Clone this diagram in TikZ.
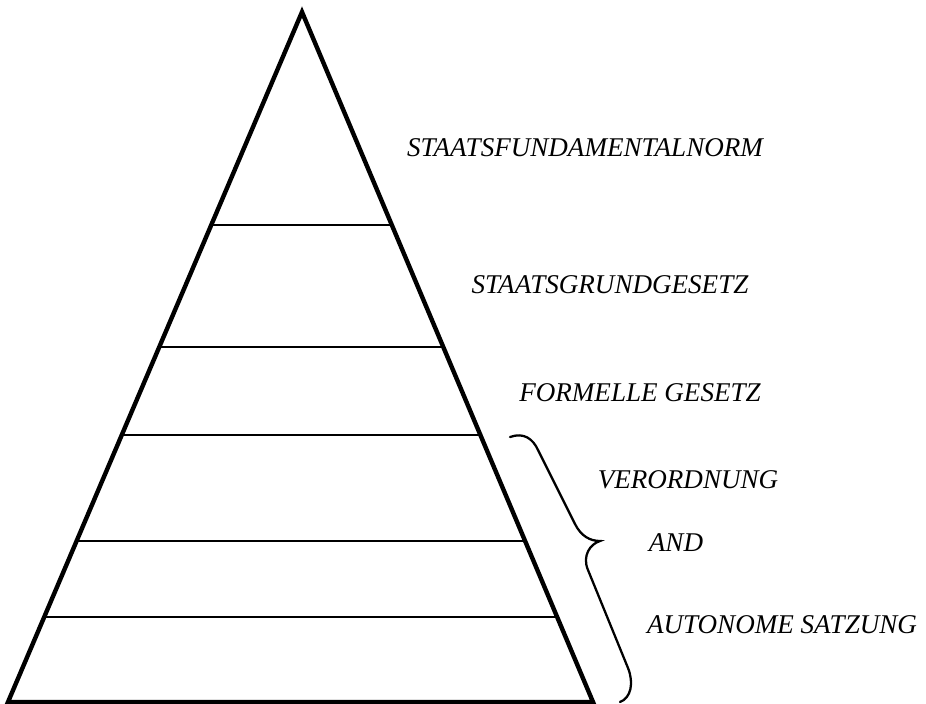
\documentclass[tikz,border=0pt]{standalone}
\usepackage{fontspec}
\setmainfont{Liberation Serif}
\usetikzlibrary{calc}
\begin{document}
\begin{tikzpicture}[x=0.75pt, y=-0.75pt,
    level/.style={font=\fontsize{20.3}{24}\selectfont\itshape, inner sep=0pt}]
  \useasboundingbox (0, 0) rectangle (926, 704);
  % pyramid
  \coordinate (top) at (302, 12);
  \coordinate (bl) at (8, 702);
  \coordinate (br) at (593, 702);
  \draw[line width=3.3pt, line join=miter] (bl) -- (top) -- (br) -- cycle;
  % layers
  \foreach \y in {225, 347, 435, 541, 617} {
    \pgfmathsetmacro{\f}{(\y - 12) / 690}
    \draw[line width=1.1pt] ($(top)!\f!(bl)$) -- ($(top)!\f!(br)$);
  }
  % brace
  \draw[line width=1.7pt, line cap=round] (510, 437)
    .. controls (524, 432) and (533, 439) .. (538, 450) -- (575, 524)
    .. controls (581, 536) and (590, 541) .. (600, 541)
    .. controls (590, 544) and (582, 556) .. (588, 570) -- (628, 668)
    .. controls (634, 683) and (631, 698) .. (620, 702);
  \node[level] (norm) at (585, 148) {STAATSFUNDAMENTALNORM};
  \node[level] (grund) at (610, 285) {STAATSGRUNDGESETZ};
  \node[level] (formell) at (640, 393) {FORMELLE GESETZ};
  \node[level] (verord) at (688, 480) {VERORDNUNG};
  \node[level] (and) at (676, 543) {AND};
  \node[level] (satzung) at (782, 625) {AUTONOME SATZUNG};
\end{tikzpicture}
\end{document}
